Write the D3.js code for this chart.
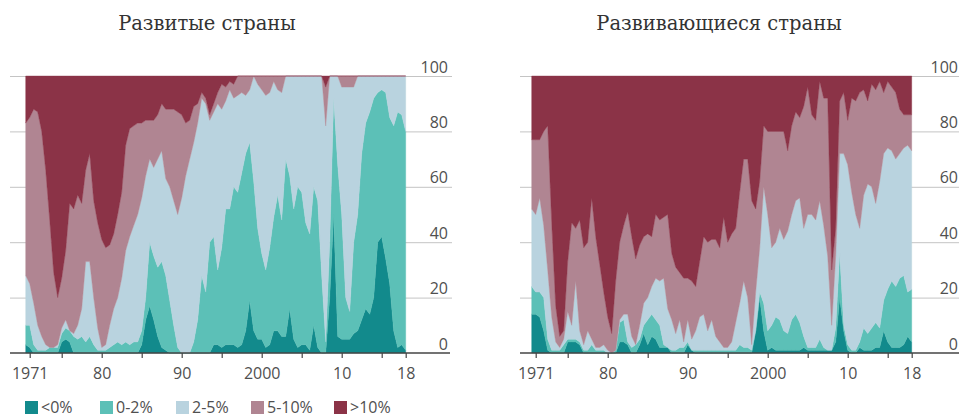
<!DOCTYPE html>
<html>
<head>
<meta charset="utf-8">
<script src="https://cdn.jsdelivr.net/npm/d3@7"></script>
<style>
  html, body { margin: 0; padding: 0; background: #fff; }
  svg { display: block; }
  .tick-label { font-family: "Open Sans", "Liberation Sans", sans-serif; font-size: 16px; font-weight: 400; fill: #505050; }
  .legend-label { font-family: "Open Sans", "Liberation Sans", sans-serif; font-size: 16px; font-weight: 400; fill: #505050; }
  .title { font-family: "DejaVu Serif", "Liberation Serif", serif; font-size: 19.5px; fill: #333; }
</style>
</head>
<body>
<svg id="chart" width="959" height="417"></svg>
<script>
// ---------- DATA ----------
// half-yearly observations, 1970.5 ... 2018.0 (96 points)
const periods = d3.range(96).map(i => 1970.5 + i * 0.5);

// Share of countries (%) with inflation below a threshold (cumulative), developed economies
const devBelow0 = [3,
  2,0, 0,0, 0,0, 0,0, 4,5, 4,0, 0,0, 0,0, 0,0, 0,0,
  0,0, 0,0, 0,0, 0,0, 3,12, 17,12, 6,2, 1,0, 0,0,
  0,0, 0,0, 0,0, 0,0, 3,3, 2,3, 3,3, 2,3, 8,19, 8,5,
  5,2, 3,8, 8,6, 6,16, 5,2, 3,3, 1,10, 2,0, 0,20, 50,6,
  5,5, 5,7, 8,12, 16,14, 20,40, 42,34, 25,8, 2,3,
  1];
const devBelow2 = [10,
  10,3, 1,1, 1,2, 2,2, 7,9, 8,6, 5,6, 4,6, 3,1,
  1,1, 2,3, 4,3, 4,3, 4,4, 8,20, 40,35, 31,33, 28,19, 10,2,
  0,0, 0,4, 12,28, 22,40, 42,30, 38,52, 52,60, 58,65, 72,76, 62,45,
  36,30, 38,49, 57,48, 70,64, 52,60, 58,47, 43,60, 55,28, 4,40, 92,68,
  50,20, 15,40, 50,72, 83,87, 92,94, 95,94, 85,82, 87,86,
  80];
const devBelow5 = [28,
  25,18, 10,6, 3,2, 2,3, 9,12, 8,7, 10,16, 33,33, 20,9,
  2,3, 10,16, 20,27, 37,42, 46,50, 56,64, 70,67, 70,73, 63,60, 55,50,
  56,64, 70,76, 83,92, 90,84, 87,90, 88,91, 95,92, 93,94, 93,95, 100,97,
  95,93, 94,98, 95,94, 100,100, 100,100, 100,100, 100,100, 100,100, 82,100, 100,100,
  96,96, 96,96, 100,100, 100,100, 100,100, 100,100, 100,100, 100,100,
  100];
const devBelow10 = [83,
  85,88, 87,80, 66,48, 29,20, 27,37, 54,52, 57,54, 66,72, 55,47,
  41,38, 39,43, 50,58, 75,81, 82,83, 83,84, 84,84, 86,90, 88,88, 88,87,
  86,83, 84,89, 90,94, 92,86, 90,94, 97,96, 98,97, 100,100, 100,100, 100,100,
  100,100, 100,100, 100,100, 100,100, 100,100, 100,100, 100,100, 100,100, 96,100, 100,100,
  100,100, 100,100, 100,100, 100,100, 100,100, 100,100, 100,100, 100,100,
  100];

// Developing economies
const emBelow0 = [14,
  14,13, 8,1, 0,0, 0,0, 4,4, 4,3, 0,0, 0,0, 0,0,
  0,0, 0,4, 4,3, 0,0, 3,7, 3,6, 5,2, 2,2, 0,0, 0,0,
  3,1, 0,0, 0,0, 0,0, 0,0, 0,0, 0,0, 0,0, 0,8, 20,8,
  1,2, 1,1, 1,1, 1,1, 1,2, 1,1, 1,1, 1,1, 1,4, 20,8,
  1,0, 0,2, 1,1, 1,2, 2,8, 4,2, 2,2, 3,6,
  4];
const emBelow2 = [24,
  22,22, 20,5, 1,1, 1,3, 5,5, 5,4, 1,1, 3,1, 1,1,
  0,0, 1,11, 12,4, 2,3, 5,10, 12,14, 12,10, 3,2, 1,1, 2,2,
  4,1, 1,1, 1,1, 1,1, 1,1, 1,1, 1,3, 2,2, 1,8, 22,18,
  8,10, 13,12, 8,7, 12,14, 11,6, 2,2, 2,5, 2,1, 1,9, 36,10,
  3,1, 1,4, 9,7, 9,11, 9,19, 23,26, 24,27, 28,22,
  23];
const emBelow5 = [52,
  50,56, 46,30, 13,4, 2,5, 15,10, 26,8, 3,8, 5,2, 2,3,
  1,0, 1,12, 14,14, 6,3, 10,18, 20,24, 27,26, 27,16, 12,7, 12,4,
  12,5, 8,13, 14,8, 12,6, 4,2, 2,4, 11,18, 26,20, 3,22, 38,60,
  50,38, 40,45, 41,44, 50,55, 56,45, 50,50, 48,55, 46,35, 10,35, 72,72,
  68,58, 50,45, 57,61, 60,54, 62,72, 74,73, 70,72, 74,75,
  73];
const emBelow10 = [77,
  77,77, 80,82, 47,17, 6,8, 33,47, 45,48, 38,40, 56,42, 32,22,
  13,7, 26,40, 46,51, 42,34, 39,42, 43,42, 50,48, 49,50, 36,31, 29,27,
  27,26, 24,33, 42,40, 41,41, 38,49, 40,43, 45,58, 70,70, 55,52, 62,82,
  80,80, 80,80, 80,73, 82,87, 85,89, 96,86, 84,98, 92,92, 30,45, 91,94,
  84,92, 91,94, 95,91, 97,95, 98,94, 98,96, 94,88, 86,86,
  86];

const categories = ["<0%", "0-2%", "2-5%", "5-10%", ">10%"];
const colors = ["#128a8c", "#5cc0b7", "#b9d3df", "#b08592", "#8b3347"];
const titles = ["Развитые страны", "Развивающиеся страны"];
const tickYears = [1971, 1975, 1980, 1985, 1990, 1995, 2000, 2005, 2010, 2015, 2018];
const tickLabels = {1971: "1971", 1980: "80", 1990: "90", 2000: "2000", 2010: "10", 2018: "18"};
const yTicks = [0, 20, 40, 60, 80, 100];

// ---------- DRAW ----------
const svg = d3.select("#chart");

function panel(dx, title, below0, below2, below5, below10, cfg) {
  const g = svg.append("g").attr("transform", `translate(${dx},0)`);
  const x = d3.scaleLinear().domain([1971, 2018]).range([29.7, 405.7]);
  const y = d3.scaleLinear().domain([0, 100]).range([353, 76]);

  // gridlines
  g.selectAll("line.grid").data(yTicks.filter(v => v > 0)).join("line")
    .attr("class", "grid")
    .attr("x1", cfg.gridX0).attr("x2", cfg.gridX1)
    .attr("y1", d => y(d) + 0.5).attr("y2", d => y(d) + 0.5)
    .attr("stroke", "#c4c4c4").attr("stroke-width", 1);

  const rows = periods.map((t, i) => ({
    t,
    b: [0, below0[i], below2[i], below5[i], below10[i], 100]
  }));

  for (let k = 0; k < 5; k++) {
    const area = d3.area()
      .x(d => x(d.t))
      .y0(d => y(d.b[k]))
      .y1(d => y(d.b[k + 1]))
      .curve(d3.curveLinear);
    g.append("path").datum(rows)
      .attr("d", area)
      .attr("fill", colors[k])
      .attr("stroke", colors[k])
      .attr("stroke-width", 0.4);
  }

  // x axis
  const axis = d3.axisBottom(x)
    .tickValues(tickYears)
    .tickFormat(d => tickLabels[d] || "")
    .tickSize(5)
    .tickSizeOuter(0)
    .tickPadding(10);
  const ax = g.append("g").attr("transform", "translate(0,353)").call(axis);
  ax.select(".domain").remove();
  ax.selectAll(".tick line").attr("stroke", "#444").attr("stroke-width", 1.2);
  ax.selectAll(".tick text").attr("class", "tick-label").attr("font-size", null).attr("font-family", null).attr("fill", null)
    .attr("dy", "0.71em");
  g.append("line")
    .attr("x1", cfg.axisX0).attr("x2", cfg.axisX1)
    .attr("y1", 353).attr("y2", 353)
    .attr("stroke", "#444").attr("stroke-width", 1.5);

  // y labels on the right, sitting above their gridlines
  g.selectAll("text.ylab").data(yTicks).join("text")
    .attr("class", "tick-label")
    .attr("x", cfg.labelX)
    .attr("y", d => y(d) - 3.5)
    .attr("text-anchor", "end")
    .text(d => d);

  // title
  g.append("text").attr("class", "title")
    .attr("x", cfg.titleX).attr("y", 30)
    .attr("text-anchor", "middle")
    .text(title);
}

panel(0, titles[0], devBelow0, devBelow2, devBelow5, devBelow10,
  {gridX0: 10, gridX1: 452, axisX0: 10, axisX1: 450, labelX: 448, titleX: 207});
panel(506, titles[1], emBelow0, emBelow2, emBelow5, emBelow10,
  {gridX0: 14, gridX1: 460, axisX0: 14, axisX1: 460, labelX: 452, titleX: 213});

// legend
const legendX = [25, 100, 176, 251, 334];
const legend = svg.append("g");
categories.forEach((c, i) => {
  legend.append("rect").attr("x", legendX[i]).attr("y", 401).attr("width", 13).attr("height", 13).attr("fill", colors[i]);
  legend.append("text").attr("class", "legend-label")
    .attr("x", legendX[i] + 16).attr("y", 413).text(c);
});
</script>
</body>
</html>
